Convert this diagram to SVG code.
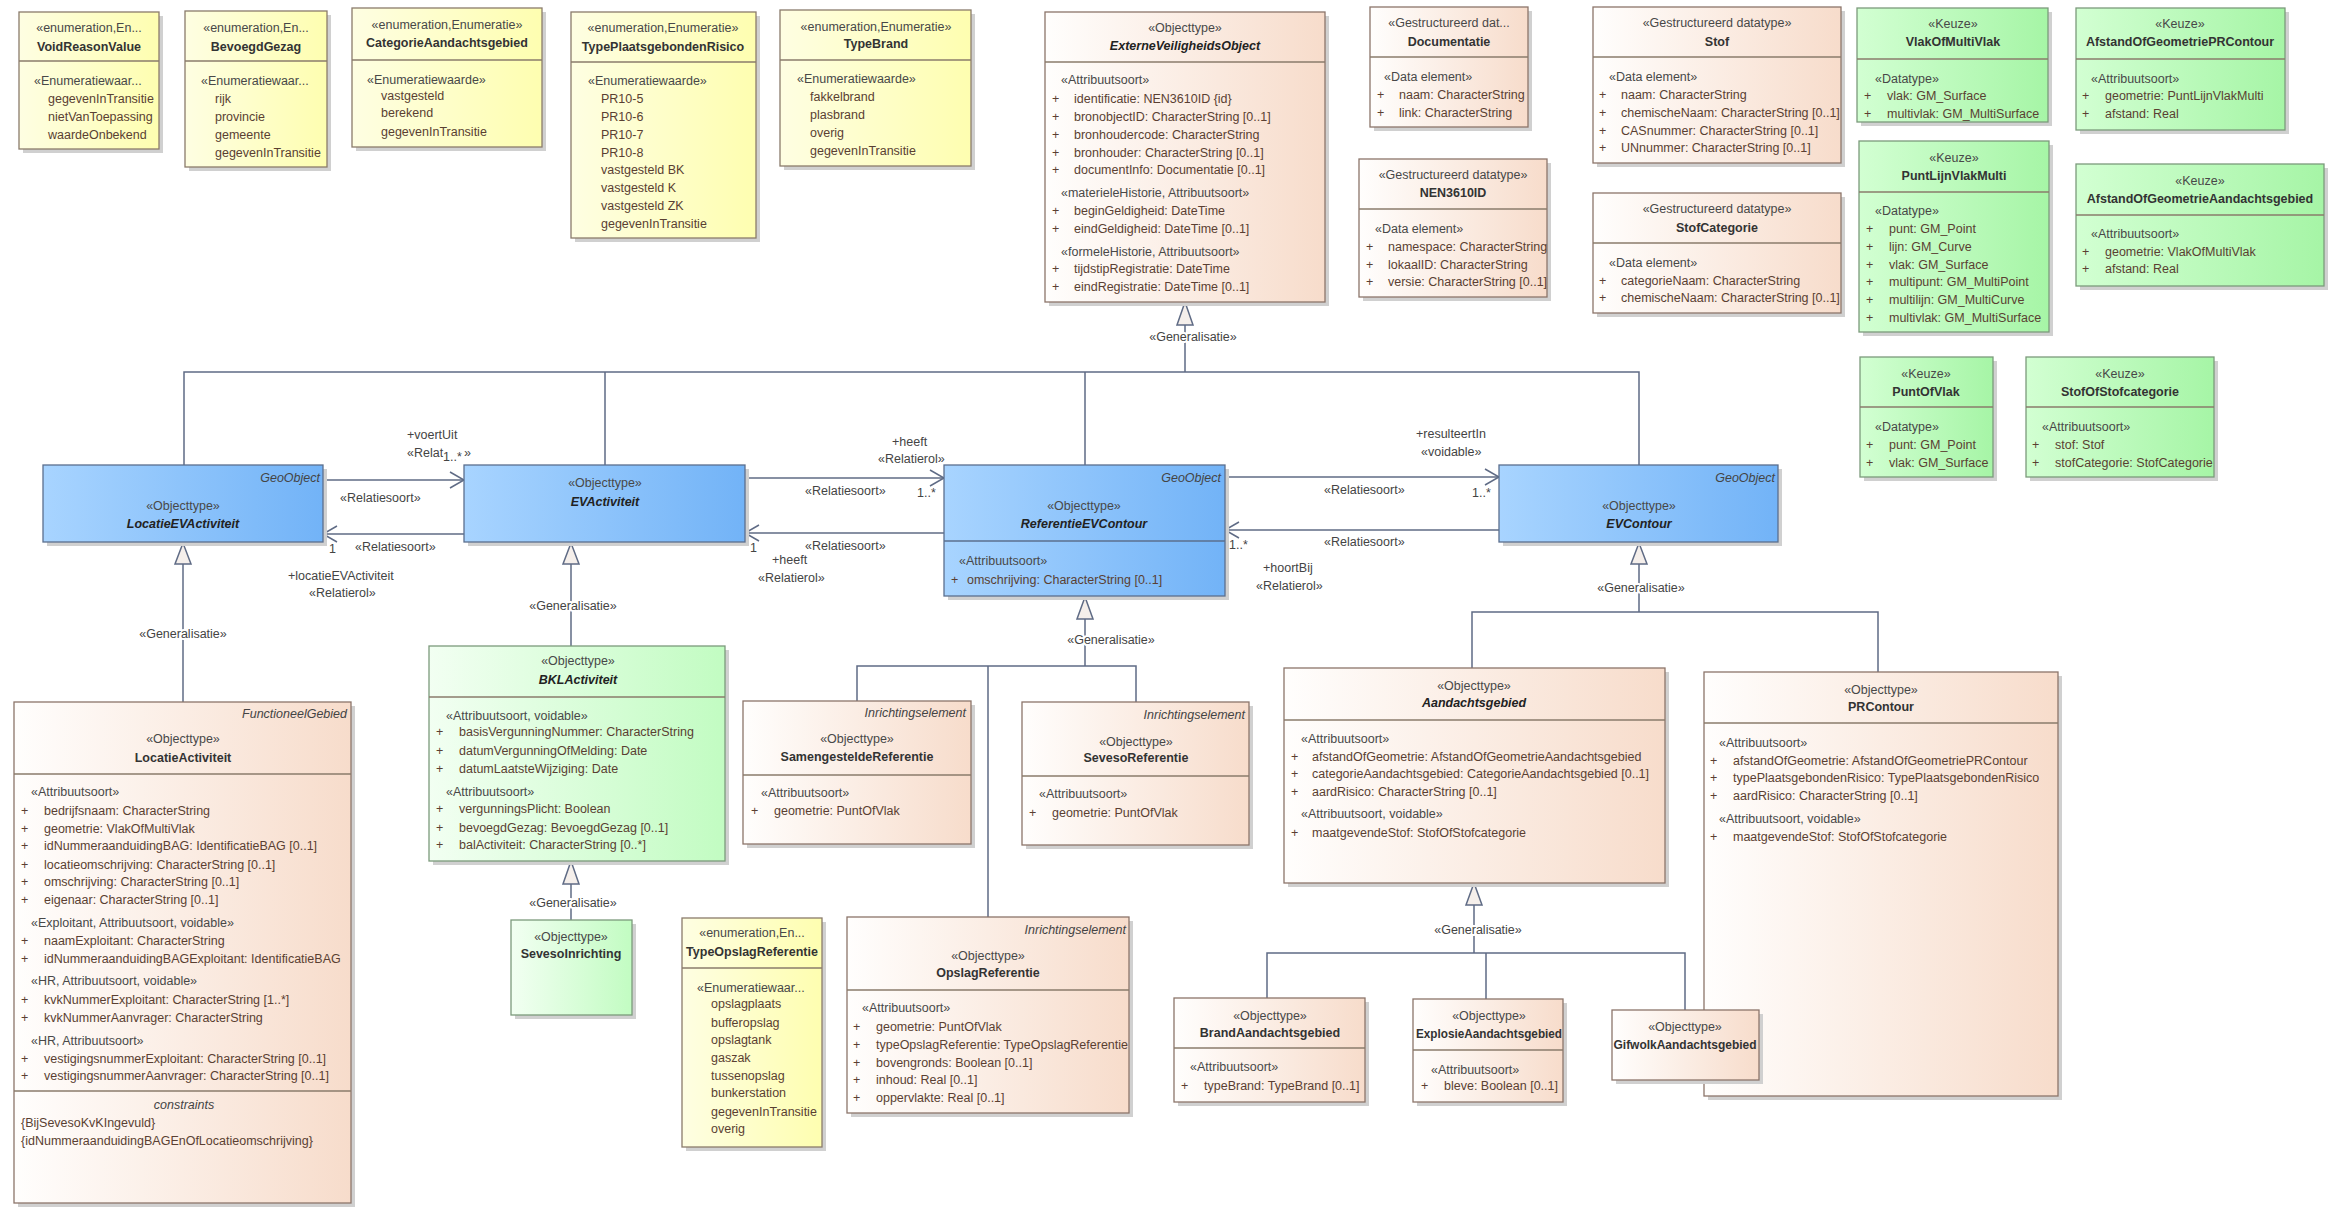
<svg xmlns="http://www.w3.org/2000/svg" width="2344" height="1221" viewBox="0 0 2344 1221">
<defs>
<linearGradient id="gEnum" x1="0" y1="0" x2="1" y2="0"><stop offset="0" stop-color="#fefee2"/><stop offset="1" stop-color="#fefeb0"/></linearGradient>
<linearGradient id="gObj" x1="0" y1="0" x2="1" y2="0"><stop offset="0" stop-color="#fffefd"/><stop offset="1" stop-color="#f7dccb"/></linearGradient>
<linearGradient id="gKeuze" x1="0" y1="0" x2="1" y2="0"><stop offset="0" stop-color="#d2ffd2"/><stop offset="1" stop-color="#a6f5a6"/></linearGradient>
<linearGradient id="gGreen" x1="0" y1="0" x2="1" y2="0"><stop offset="0" stop-color="#f2fff2"/><stop offset="1" stop-color="#c2fcc2"/></linearGradient>
<linearGradient id="gBlue" x1="0" y1="0" x2="1" y2="0"><stop offset="0" stop-color="#a8d4ff"/><stop offset="1" stop-color="#72b3f7"/></linearGradient>
<style>
text{font-family:"Liberation Sans",Arial,sans-serif;font-size:12.5px}
.sh{fill:#d0d0d0}
.enum{fill:url(#gEnum);stroke:#8a7b6b;stroke-width:1.3}
.obj{fill:url(#gObj);stroke:#8c756a;stroke-width:1.3}
.keuze{fill:url(#gKeuze);stroke:#7c9a7c;stroke-width:1.3}
.green{fill:url(#gGreen);stroke:#7c9a7c;stroke-width:1.3}
.blue{fill:url(#gBlue);stroke:#5b6f8e;stroke-width:1.3}
.dv{stroke:#8a7b6b;stroke-width:1.3}
.dvb{stroke:#5b6f8e;stroke-width:1.3}
.st{fill:#484848;text-anchor:middle}
.sl{fill:#484848}
.nm{fill:#333;font-weight:bold;text-anchor:middle}
.nmi{fill:#222;font-weight:bold;font-style:italic;text-anchor:middle}
.a{fill:#5a3f32}
.it{fill:#444;font-style:italic;text-anchor:end}
.itc{fill:#444;font-style:italic;text-anchor:middle}
.cl{fill:#444;paint-order:stroke;stroke:#fff;stroke-width:4px;stroke-linejoin:round}
.clm{fill:#444;text-anchor:middle;paint-order:stroke;stroke:#fff;stroke-width:4px;stroke-linejoin:round}
.tri{fill:#f5efeb}
</style>
</defs>
<rect width="2344" height="1221" fill="#fff"/>

<g id="connectors" fill="none" stroke="#5f6b85" stroke-width="1.5">
<path d="M1185,325 V372 M184,465 V372 H1639 V465 M605,372 V465 M1085,372 V465"/>
<path d="M183,564 V702"/>
<path d="M571,564 V646"/>
<path d="M571,884 V920"/>
<path d="M1085,619 V666 M857,701 V666 H1136 V702 M988,666 V917"/>
<path d="M1639,564 V612 M1472,668 V612 H1878 V672"/>
<path d="M1474,905 V953 M1267,998 V953 H1685 V1010 M1486,953 V999"/>
<polygon class="tri" points="1185,302 1177,325 1193,325"/>
<polygon class="tri" points="183,543 175,564 191,564"/>
<polygon class="tri" points="571,543 563,564 579,564"/>
<polygon class="tri" points="571,861 563,884 579,884"/>
<polygon class="tri" points="1085,597 1077,619 1093,619"/>
<polygon class="tri" points="1639,543 1631,564 1647,564"/>
<polygon class="tri" points="1474,883 1466,905 1482,905"/>
<path d="M323,480 H464"/><polyline points="450,472 464,480 450,488"/>
<path d="M464,534 H323"/><polyline points="337,526 323,534 337,542"/>
<path d="M745,478 H944"/><polyline points="930,470 944,478 930,486"/>
<path d="M944,533 H745"/><polyline points="759,525 745,533 759,541"/>
<path d="M1225,477 H1499"/><polyline points="1485,469 1499,477 1485,485"/>
<path d="M1499,530 H1225"/><polyline points="1239,522 1225,530 1239,538"/>
<g stroke="none">
<text class="clm" x="1193" y="341">«Generalisatie»</text>
<text class="clm" x="183" y="638">«Generalisatie»</text>
<text class="clm" x="573" y="610">«Generalisatie»</text>
<text class="clm" x="573" y="907">«Generalisatie»</text>
<text class="clm" x="1111" y="644">«Generalisatie»</text>
<text class="clm" x="1641" y="592">«Generalisatie»</text>
<text class="clm" x="1478" y="934">«Generalisatie»</text>
<text class="cl" x="407" y="439">+voertUit</text>
<text class="cl" x="407" y="457">«Relat</text>
<text class="cl" x="443" y="461">1..*</text>
<text class="cl" x="464" y="457">»</text>
<text class="cl" x="340" y="502">«Relatiesoort»</text>
<text class="cl" x="329" y="553">1</text>
<text class="cl" x="355" y="551">«Relatiesoort»</text>
<text class="cl" x="288" y="580">+locatieEVActiviteit</text>
<text class="cl" x="309" y="597">«Relatierol»</text>
<text class="cl" x="892" y="446">+heeft</text>
<text class="cl" x="878" y="463">«Relatierol»</text>
<text class="cl" x="805" y="495">«Relatiesoort»</text>
<text class="cl" x="917" y="497">1..*</text>
<text class="cl" x="750" y="552">1</text>
<text class="cl" x="805" y="550">«Relatiesoort»</text>
<text class="cl" x="772" y="564">+heeft</text>
<text class="cl" x="758" y="582">«Relatierol»</text>
<text class="cl" x="1324" y="494">«Relatiesoort»</text>
<text class="cl" x="1472" y="497">1..*</text>
<text class="cl" x="1416" y="438">+resulteertIn</text>
<text class="cl" x="1421" y="456">«voidable»</text>
<text class="cl" x="1229" y="549">1..*</text>
<text class="cl" x="1324" y="546">«Relatiesoort»</text>
<text class="cl" x="1263" y="572">+hoortBij</text>
<text class="cl" x="1256" y="590">«Relatierol»</text>
</g>
</g>

<g id="VoidReasonValue">
<rect class="sh" x="23" y="16" width="140" height="137"/>
<rect class="enum" x="19" y="12" width="140" height="137"/>
<line class="dv" x1="19" y1="61" x2="159" y2="61"/>
<text class="st" x="89" y="32">«enumeration,En...</text>
<text class="nm" x="89" y="51">VoidReasonValue</text>
<text class="sl" x="34" y="85">«Enumeratiewaar...</text>
<text class="a" x="48" y="103">gegevenInTransitie</text>
<text class="a" x="48" y="121">nietVanToepassing</text>
<text class="a" x="48" y="139">waardeOnbekend</text>
</g>

<g id="BevoegdGezag">
<rect class="sh" x="189" y="15" width="142" height="156"/>
<rect class="enum" x="185" y="11" width="142" height="156"/>
<line class="dv" x1="185" y1="61" x2="327" y2="61"/>
<text class="st" x="256" y="32">«enumeration,En...</text>
<text class="nm" x="256" y="51">BevoegdGezag</text>
<text class="sl" x="201" y="85">«Enumeratiewaar...</text>
<text class="a" x="215" y="103">rijk</text>
<text class="a" x="215" y="121">provincie</text>
<text class="a" x="215" y="139">gemeente</text>
<text class="a" x="215" y="157">gegevenInTransitie</text>
</g>

<g id="CategorieAandachtsgebied">
<rect class="sh" x="356" y="12" width="190" height="139"/>
<rect class="enum" x="352" y="8" width="190" height="139"/>
<line class="dv" x1="352" y1="60" x2="542" y2="60"/>
<text class="st" x="447" y="29">«enumeration,Enumeratie»</text>
<text class="nm" x="447" y="47">CategorieAandachtsgebied</text>
<text class="sl" x="367" y="84">«Enumeratiewaarde»</text>
<text class="a" x="381" y="100">vastgesteld</text>
<text class="a" x="381" y="117">berekend</text>
<text class="a" x="381" y="136">gegevenInTransitie</text>
</g>

<g id="TypePlaatsgebondenRisico">
<rect class="sh" x="575" y="16" width="185" height="226"/>
<rect class="enum" x="571" y="12" width="185" height="226"/>
<line class="dv" x1="571" y1="62" x2="756" y2="62"/>
<text class="st" x="663" y="32">«enumeration,Enumeratie»</text>
<text class="nm" x="663" y="51">TypePlaatsgebondenRisico</text>
<text class="sl" x="588" y="85">«Enumeratiewaarde»</text>
<text class="a" x="601" y="103">PR10-5</text>
<text class="a" x="601" y="121">PR10-6</text>
<text class="a" x="601" y="139">PR10-7</text>
<text class="a" x="601" y="157">PR10-8</text>
<text class="a" x="601" y="174">vastgesteld BK</text>
<text class="a" x="601" y="192">vastgesteld K</text>
<text class="a" x="601" y="210">vastgesteld ZK</text>
<text class="a" x="601" y="228">gegevenInTransitie</text>
</g>

<g id="TypeBrand">
<rect class="sh" x="784" y="14" width="191" height="156"/>
<rect class="enum" x="780" y="10" width="191" height="156"/>
<line class="dv" x1="780" y1="60" x2="971" y2="60"/>
<text class="st" x="876" y="31">«enumeration,Enumeratie»</text>
<text class="nm" x="876" y="48">TypeBrand</text>
<text class="sl" x="797" y="83">«Enumeratiewaarde»</text>
<text class="a" x="810" y="101">fakkelbrand</text>
<text class="a" x="810" y="119">plasbrand</text>
<text class="a" x="810" y="137">overig</text>
<text class="a" x="810" y="155">gegevenInTransitie</text>
</g>

<g id="ExterneVeiligheidsObject">
<rect class="sh" x="1049" y="16" width="280" height="290"/>
<rect class="obj" x="1045" y="12" width="280" height="290"/>
<line class="dv" x1="1045" y1="62" x2="1325" y2="62"/>
<text class="st" x="1185" y="32">«Objecttype»</text>
<text class="nmi" x="1185" y="50">ExterneVeiligheidsObject</text>
<text class="sl" x="1061" y="84">«Attribuutsoort»</text>
<text class="a" x="1052" y="103">+</text><text class="a" x="1074" y="103">identificatie: NEN3610ID {id}</text>
<text class="a" x="1052" y="121">+</text><text class="a" x="1074" y="121">bronobjectID: CharacterString [0..1]</text>
<text class="a" x="1052" y="139">+</text><text class="a" x="1074" y="139">bronhoudercode: CharacterString</text>
<text class="a" x="1052" y="157">+</text><text class="a" x="1074" y="157">bronhouder: CharacterString [0..1]</text>
<text class="a" x="1052" y="174">+</text><text class="a" x="1074" y="174">documentInfo: Documentatie [0..1]</text>
<text class="sl" x="1061" y="197">«materieleHistorie, Attribuutsoort»</text>
<text class="a" x="1052" y="215">+</text><text class="a" x="1074" y="215">beginGeldigheid: DateTime</text>
<text class="a" x="1052" y="233">+</text><text class="a" x="1074" y="233">eindGeldigheid: DateTime [0..1]</text>
<text class="sl" x="1061" y="256">«formeleHistorie, Attribuutsoort»</text>
<text class="a" x="1052" y="273">+</text><text class="a" x="1074" y="273">tijdstipRegistratie: DateTime</text>
<text class="a" x="1052" y="291">+</text><text class="a" x="1074" y="291">eindRegistratie: DateTime [0..1]</text>
</g>

<g id="Documentatie">
<rect class="sh" x="1374" y="11" width="158" height="120"/>
<rect class="obj" x="1370" y="7" width="158" height="120"/>
<line class="dv" x1="1370" y1="57" x2="1528" y2="57"/>
<text class="st" x="1449" y="27">«Gestructureerd dat...</text>
<text class="nm" x="1449" y="46">Documentatie</text>
<text class="sl" x="1384" y="81">«Data element»</text>
<text class="a" x="1377" y="99">+</text><text class="a" x="1399" y="99">naam: CharacterString</text>
<text class="a" x="1377" y="117">+</text><text class="a" x="1399" y="117">link: CharacterString</text>
</g>

<g id="NEN3610ID">
<rect class="sh" x="1363" y="163" width="188" height="138"/>
<rect class="obj" x="1359" y="159" width="188" height="138"/>
<line class="dv" x1="1359" y1="209" x2="1547" y2="209"/>
<text class="st" x="1453" y="179">«Gestructureerd datatype»</text>
<text class="nm" x="1453" y="197">NEN3610ID</text>
<text class="sl" x="1375" y="233">«Data element»</text>
<text class="a" x="1366" y="251">+</text><text class="a" x="1388" y="251">namespace: CharacterString</text>
<text class="a" x="1366" y="269">+</text><text class="a" x="1388" y="269">lokaalID: CharacterString</text>
<text class="a" x="1366" y="286">+</text><text class="a" x="1388" y="286">versie: CharacterString [0..1]</text>
</g>

<g id="Stof">
<rect class="sh" x="1597" y="11" width="248" height="156"/>
<rect class="obj" x="1593" y="7" width="248" height="156"/>
<line class="dv" x1="1593" y1="57" x2="1841" y2="57"/>
<text class="st" x="1717" y="27">«Gestructureerd datatype»</text>
<text class="nm" x="1717" y="46">Stof</text>
<text class="sl" x="1609" y="81">«Data element»</text>
<text class="a" x="1599" y="99">+</text><text class="a" x="1621" y="99">naam: CharacterString</text>
<text class="a" x="1599" y="117">+</text><text class="a" x="1621" y="117">chemischeNaam: CharacterString [0..1]</text>
<text class="a" x="1599" y="135">+</text><text class="a" x="1621" y="135">CASnummer: CharacterString [0..1]</text>
<text class="a" x="1599" y="152">+</text><text class="a" x="1621" y="152">UNnummer: CharacterString [0..1]</text>
</g>

<g id="StofCategorie">
<rect class="sh" x="1597" y="197" width="248" height="120"/>
<rect class="obj" x="1593" y="193" width="248" height="120"/>
<line class="dv" x1="1593" y1="243" x2="1841" y2="243"/>
<text class="st" x="1717" y="213">«Gestructureerd datatype»</text>
<text class="nm" x="1717" y="232">StofCategorie</text>
<text class="sl" x="1609" y="267">«Data element»</text>
<text class="a" x="1599" y="285">+</text><text class="a" x="1621" y="285">categorieNaam: CharacterString</text>
<text class="a" x="1599" y="302">+</text><text class="a" x="1621" y="302">chemischeNaam: CharacterString [0..1]</text>
</g>

<g id="VlakOfMultiVlak">
<rect class="sh" x="1861" y="12" width="191" height="114"/>
<rect class="keuze" x="1857" y="8" width="191" height="114"/>
<line class="dv" x1="1857" y1="59" x2="2048" y2="59"/>
<text class="st" x="1953" y="28">«Keuze»</text>
<text class="nm" x="1953" y="46">VlakOfMultiVlak</text>
<text class="sl" x="1875" y="83">«Datatype»</text>
<text class="a" x="1864" y="100">+</text><text class="a" x="1887" y="100">vlak: GM_Surface</text>
<text class="a" x="1864" y="118">+</text><text class="a" x="1887" y="118">multivlak: GM_MultiSurface</text>
</g>

<g id="AfstandOfGeometriePRContour">
<rect class="sh" x="2080" y="12" width="209" height="122"/>
<rect class="keuze" x="2076" y="8" width="209" height="122"/>
<line class="dv" x1="2076" y1="59" x2="2285" y2="59"/>
<text class="st" x="2180" y="28">«Keuze»</text>
<text class="nm" x="2180" y="46">AfstandOfGeometriePRContour</text>
<text class="sl" x="2091" y="83">«Attribuutsoort»</text>
<text class="a" x="2082" y="100">+</text><text class="a" x="2105" y="100">geometrie: PuntLijnVlakMulti</text>
<text class="a" x="2082" y="118">+</text><text class="a" x="2105" y="118">afstand: Real</text>
</g>

<g id="PuntLijnVlakMulti">
<rect class="sh" x="1863" y="145" width="190" height="191"/>
<rect class="keuze" x="1859" y="141" width="190" height="191"/>
<line class="dv" x1="1859" y1="192" x2="2049" y2="192"/>
<text class="st" x="1954" y="162">«Keuze»</text>
<text class="nm" x="1954" y="180">PuntLijnVlakMulti</text>
<text class="sl" x="1875" y="215">«Datatype»</text>
<text class="a" x="1866" y="233">+</text><text class="a" x="1889" y="233">punt: GM_Point</text>
<text class="a" x="1866" y="251">+</text><text class="a" x="1889" y="251">lijn: GM_Curve</text>
<text class="a" x="1866" y="269">+</text><text class="a" x="1889" y="269">vlak: GM_Surface</text>
<text class="a" x="1866" y="286">+</text><text class="a" x="1889" y="286">multipunt: GM_MultiPoint</text>
<text class="a" x="1866" y="304">+</text><text class="a" x="1889" y="304">multilijn: GM_MultiCurve</text>
<text class="a" x="1866" y="322">+</text><text class="a" x="1889" y="322">multivlak: GM_MultiSurface</text>
</g>

<g id="AfstandOfGeometrieAandachtsgebied">
<rect class="sh" x="2080" y="168" width="248" height="122"/>
<rect class="keuze" x="2076" y="164" width="248" height="122"/>
<line class="dv" x1="2076" y1="215" x2="2324" y2="215"/>
<text class="st" x="2200" y="185">«Keuze»</text>
<text class="nm" x="2200" y="203">AfstandOfGeometrieAandachtsgebied</text>
<text class="sl" x="2091" y="238">«Attribuutsoort»</text>
<text class="a" x="2082" y="256">+</text><text class="a" x="2105" y="256">geometrie: VlakOfMultiVlak</text>
<text class="a" x="2082" y="273">+</text><text class="a" x="2105" y="273">afstand: Real</text>
</g>

<g id="PuntOfVlak">
<rect class="sh" x="1864" y="361" width="133" height="120"/>
<rect class="keuze" x="1860" y="357" width="133" height="120"/>
<line class="dv" x1="1860" y1="407" x2="1993" y2="407"/>
<text class="st" x="1926" y="378">«Keuze»</text>
<text class="nm" x="1926" y="396">PuntOfVlak</text>
<text class="sl" x="1875" y="431">«Datatype»</text>
<text class="a" x="1866" y="449">+</text><text class="a" x="1889" y="449">punt: GM_Point</text>
<text class="a" x="1866" y="467">+</text><text class="a" x="1889" y="467">vlak: GM_Surface</text>
</g>

<g id="StofOfStofcategorie">
<rect class="sh" x="2030" y="361" width="188" height="120"/>
<rect class="keuze" x="2026" y="357" width="188" height="120"/>
<line class="dv" x1="2026" y1="407" x2="2214" y2="407"/>
<text class="st" x="2120" y="378">«Keuze»</text>
<text class="nm" x="2120" y="396">StofOfStofcategorie</text>
<text class="sl" x="2042" y="431">«Attribuutsoort»</text>
<text class="a" x="2032" y="449">+</text><text class="a" x="2055" y="449">stof: Stof</text>
<text class="a" x="2032" y="467">+</text><text class="a" x="2055" y="467">stofCategorie: StofCategorie</text>
</g>

<g id="LocatieEVActiviteit">
<rect class="sh" x="47" y="469" width="280" height="77"/>
<rect class="blue" x="43" y="465" width="280" height="77"/>
<text class="it" x="320" y="482">GeoObject</text>
<text class="st" x="183" y="510">«Objecttype»</text>
<text class="nmi" x="183" y="528">LocatieEVActiviteit</text>
</g>

<g id="EVActiviteit">
<rect class="sh" x="468" y="469" width="281" height="77"/>
<rect class="blue" x="464" y="465" width="281" height="77"/>
<text class="st" x="605" y="487">«Objecttype»</text>
<text class="nmi" x="605" y="506">EVActiviteit</text>
</g>

<g id="ReferentieEVContour">
<rect class="sh" x="948" y="469" width="281" height="131"/>
<rect class="blue" x="944" y="465" width="281" height="131"/>
<line class="dvb" x1="944" y1="541" x2="1225" y2="541"/>
<text class="it" x="1221" y="482">GeoObject</text>
<text class="st" x="1084" y="510">«Objecttype»</text>
<text class="nmi" x="1084" y="528">ReferentieEVContour</text>
<text class="sl" x="959" y="565">«Attribuutsoort»</text>
<text class="a" x="951" y="584">+</text><text class="a" x="967" y="584">omschrijving: CharacterString [0..1]</text>
</g>

<g id="EVContour">
<rect class="sh" x="1503" y="469" width="279" height="77"/>
<rect class="blue" x="1499" y="465" width="279" height="77"/>
<text class="it" x="1775" y="482">GeoObject</text>
<text class="st" x="1639" y="510">«Objecttype»</text>
<text class="nmi" x="1639" y="528">EVContour</text>
</g>

<g id="LocatieActiviteit">
<rect class="sh" x="18" y="706" width="337" height="501"/>
<rect class="obj" x="14" y="702" width="337" height="501"/>
<text class="it" x="347" y="718">FunctioneelGebied</text>
<text class="st" x="183" y="743">«Objecttype»</text>
<text class="nm" x="183" y="762">LocatieActiviteit</text>
<line class="dv" x1="14" y1="774" x2="351" y2="774"/>
<text class="sl" x="31" y="796">«Attribuutsoort»</text>
<text class="a" x="21" y="815">+</text><text class="a" x="44" y="815">bedrijfsnaam: CharacterString</text>
<text class="a" x="21" y="833">+</text><text class="a" x="44" y="833">geometrie: VlakOfMultiVlak</text>
<text class="a" x="21" y="850">+</text><text class="a" x="44" y="850">idNummeraanduidingBAG: IdentificatieBAG [0..1]</text>
<text class="a" x="21" y="869">+</text><text class="a" x="44" y="869">locatieomschrijving: CharacterString [0..1]</text>
<text class="a" x="21" y="886">+</text><text class="a" x="44" y="886">omschrijving: CharacterString [0..1]</text>
<text class="a" x="21" y="904">+</text><text class="a" x="44" y="904">eigenaar: CharacterString [0..1]</text>
<text class="sl" x="31" y="927">«Exploitant, Attribuutsoort, voidable»</text>
<text class="a" x="21" y="945">+</text><text class="a" x="44" y="945">naamExploitant: CharacterString</text>
<text class="a" x="21" y="963">+</text><text class="a" x="44" y="963">idNummeraanduidingBAGExploitant: IdentificatieBAG</text>
<text class="sl" x="31" y="985">«HR, Attribuutsoort, voidable»</text>
<text class="a" x="21" y="1004">+</text><text class="a" x="44" y="1004">kvkNummerExploitant: CharacterString [1..*]</text>
<text class="a" x="21" y="1022">+</text><text class="a" x="44" y="1022">kvkNummerAanvrager: CharacterString</text>
<text class="sl" x="31" y="1045">«HR, Attribuutsoort»</text>
<text class="a" x="21" y="1063">+</text><text class="a" x="44" y="1063">vestigingsnummerExploitant: CharacterString [0..1]</text>
<text class="a" x="21" y="1080">+</text><text class="a" x="44" y="1080">vestigingsnummerAanvrager: CharacterString [0..1]</text>
<line class="dv" x1="14" y1="1091" x2="351" y2="1091"/>
<text class="itc" x="184" y="1109">constraints</text>
<text class="a" x="21" y="1127">{BijSevesoKvKIngevuld}</text>
<text class="a" x="21" y="1145">{idNummeraanduidingBAGEnOfLocatieomschrijving}</text>
</g>

<g id="BKLActiviteit">
<rect class="sh" x="433" y="650" width="296" height="215"/>
<rect class="green" x="429" y="646" width="296" height="215"/>
<line class="dv" x1="429" y1="697" x2="725" y2="697"/>
<text class="st" x="578" y="665">«Objecttype»</text>
<text class="nmi" x="578" y="684">BKLActiviteit</text>
<text class="sl" x="446" y="720">«Attribuutsoort, voidable»</text>
<text class="a" x="436" y="736">+</text><text class="a" x="459" y="736">basisVergunningNummer: CharacterString</text>
<text class="a" x="436" y="755">+</text><text class="a" x="459" y="755">datumVergunningOfMelding: Date</text>
<text class="a" x="436" y="773">+</text><text class="a" x="459" y="773">datumLaatsteWijziging: Date</text>
<text class="sl" x="446" y="796">«Attribuutsoort»</text>
<text class="a" x="436" y="813">+</text><text class="a" x="459" y="813">vergunningsPlicht: Boolean</text>
<text class="a" x="436" y="832">+</text><text class="a" x="459" y="832">bevoegdGezag: BevoegdGezag [0..1]</text>
<text class="a" x="436" y="849">+</text><text class="a" x="459" y="849">balActiviteit: CharacterString [0..*]</text>
</g>

<g id="SevesoInrichting">
<rect class="sh" x="515" y="924" width="121" height="95"/>
<rect class="green" x="511" y="920" width="121" height="95"/>
<text class="st" x="571" y="941">«Objecttype»</text>
<text class="nm" x="571" y="958">SevesoInrichting</text>
</g>

<g id="TypeOpslagReferentie">
<rect class="sh" x="686" y="922" width="140" height="229"/>
<rect class="enum" x="682" y="918" width="140" height="229"/>
<line class="dv" x1="682" y1="968" x2="822" y2="968"/>
<text class="st" x="752" y="937">«enumeration,En...</text>
<text class="nm" x="752" y="956">TypeOpslagReferentie</text>
<text class="sl" x="697" y="992">«Enumeratiewaar...</text>
<text class="a" x="711" y="1008">opslagplaats</text>
<text class="a" x="711" y="1027">bufferopslag</text>
<text class="a" x="711" y="1044">opslagtank</text>
<text class="a" x="711" y="1062">gaszak</text>
<text class="a" x="711" y="1080">tussenopslag</text>
<text class="a" x="711" y="1097">bunkerstation</text>
<text class="a" x="711" y="1116">gegevenInTransitie</text>
<text class="a" x="711" y="1133">overig</text>
</g>

<g id="SamengesteldeReferentie">
<rect class="sh" x="747" y="705" width="228" height="143"/>
<rect class="obj" x="743" y="701" width="228" height="143"/>
<text class="it" x="966" y="717">Inrichtingselement</text>
<text class="st" x="857" y="743">«Objecttype»</text>
<text class="nm" x="857" y="761">SamengesteldeReferentie</text>
<line class="dv" x1="743" y1="775" x2="971" y2="775"/>
<text class="sl" x="761" y="797">«Attribuutsoort»</text>
<text class="a" x="751" y="815">+</text><text class="a" x="774" y="815">geometrie: PuntOfVlak</text>
</g>

<g id="SevesoReferentie">
<rect class="sh" x="1026" y="706" width="227" height="143"/>
<rect class="obj" x="1022" y="702" width="227" height="143"/>
<text class="it" x="1245" y="719">Inrichtingselement</text>
<text class="st" x="1136" y="746">«Objecttype»</text>
<text class="nm" x="1136" y="762">SevesoReferentie</text>
<line class="dv" x1="1022" y1="776" x2="1249" y2="776"/>
<text class="sl" x="1039" y="798">«Attribuutsoort»</text>
<text class="a" x="1029" y="817">+</text><text class="a" x="1052" y="817">geometrie: PuntOfVlak</text>
</g>

<g id="OpslagReferentie">
<rect class="sh" x="851" y="921" width="282" height="196"/>
<rect class="obj" x="847" y="917" width="282" height="196"/>
<text class="it" x="1126" y="934">Inrichtingselement</text>
<text class="st" x="988" y="960">«Objecttype»</text>
<text class="nm" x="988" y="977">OpslagReferentie</text>
<line class="dv" x1="847" y1="990" x2="1129" y2="990"/>
<text class="sl" x="862" y="1012">«Attribuutsoort»</text>
<text class="a" x="853" y="1031">+</text><text class="a" x="876" y="1031">geometrie: PuntOfVlak</text>
<text class="a" x="853" y="1049">+</text><text class="a" x="876" y="1049">typeOpslagReferentie: TypeOpslagReferentie</text>
<text class="a" x="853" y="1067">+</text><text class="a" x="876" y="1067">bovengronds: Boolean [0..1]</text>
<text class="a" x="853" y="1084">+</text><text class="a" x="876" y="1084">inhoud: Real [0..1]</text>
<text class="a" x="853" y="1102">+</text><text class="a" x="876" y="1102">oppervlakte: Real [0..1]</text>
</g>

<g id="Aandachtsgebied">
<rect class="sh" x="1288" y="672" width="381" height="215"/>
<rect class="obj" x="1284" y="668" width="381" height="215"/>
<line class="dv" x1="1284" y1="720" x2="1665" y2="720"/>
<text class="st" x="1474" y="690">«Objecttype»</text>
<text class="nmi" x="1474" y="707">Aandachtsgebied</text>
<text class="sl" x="1301" y="743">«Attribuutsoort»</text>
<text class="a" x="1291" y="761">+</text><text class="a" x="1312" y="761">afstandOfGeometrie: AfstandOfGeometrieAandachtsgebied</text>
<text class="a" x="1291" y="778">+</text><text class="a" x="1312" y="778">categorieAandachtsgebied: CategorieAandachtsgebied [0..1]</text>
<text class="a" x="1291" y="796">+</text><text class="a" x="1312" y="796">aardRisico: CharacterString [0..1]</text>
<text class="sl" x="1301" y="818">«Attribuutsoort, voidable»</text>
<text class="a" x="1291" y="837">+</text><text class="a" x="1312" y="837">maatgevendeStof: StofOfStofcategorie</text>
</g>

<g id="PRContour">
<rect class="sh" x="1708" y="676" width="354" height="424"/>
<rect class="obj" x="1704" y="672" width="354" height="424"/>
<line class="dv" x1="1704" y1="723" x2="2058" y2="723"/>
<text class="st" x="1881" y="694">«Objecttype»</text>
<text class="nm" x="1881" y="711">PRContour</text>
<text class="sl" x="1719" y="747">«Attribuutsoort»</text>
<text class="a" x="1710" y="765">+</text><text class="a" x="1733" y="765">afstandOfGeometrie: AfstandOfGeometriePRContour</text>
<text class="a" x="1710" y="782">+</text><text class="a" x="1733" y="782">typePlaatsgebondenRisico: TypePlaatsgebondenRisico</text>
<text class="a" x="1710" y="800">+</text><text class="a" x="1733" y="800">aardRisico: CharacterString [0..1]</text>
<text class="sl" x="1719" y="823">«Attribuutsoort, voidable»</text>
<text class="a" x="1710" y="841">+</text><text class="a" x="1733" y="841">maatgevendeStof: StofOfStofcategorie</text>
</g>

<g id="BrandAandachtsgebied">
<rect class="sh" x="1178" y="1002" width="191" height="104"/>
<rect class="obj" x="1174" y="998" width="191" height="104"/>
<line class="dv" x1="1174" y1="1048" x2="1365" y2="1048"/>
<text class="st" x="1270" y="1020">«Objecttype»</text>
<text class="nm" x="1270" y="1037">BrandAandachtsgebied</text>
<text class="sl" x="1190" y="1071">«Attribuutsoort»</text>
<text class="a" x="1181" y="1090">+</text><text class="a" x="1204" y="1090">typeBrand: TypeBrand [0..1]</text>
</g>

<g id="ExplosieAandachtsgebied">
<rect class="sh" x="1417" y="1003" width="150" height="103"/>
<rect class="obj" x="1413" y="999" width="150" height="103"/>
<line class="dv" x1="1413" y1="1050" x2="1563" y2="1050"/>
<text class="st" x="1489" y="1020">«Objecttype»</text>
<text class="nm" x="1489" y="1038" textLength="146" lengthAdjust="spacingAndGlyphs">ExplosieAandachtsgebied</text>
<text class="sl" x="1431" y="1074">«Attribuutsoort»</text>
<text class="a" x="1421" y="1090">+</text><text class="a" x="1444" y="1090">bleve: Boolean [0..1]</text>
</g>

<g id="GifwolkAandachtsgebied">
<rect class="sh" x="1616" y="1014" width="147" height="70"/>
<rect class="obj" x="1612" y="1010" width="147" height="70"/>
<text class="st" x="1685" y="1031">«Objecttype»</text>
<text class="nm" x="1685" y="1049" textLength="143" lengthAdjust="spacingAndGlyphs">GifwolkAandachtsgebied</text>
</g>
</svg>
